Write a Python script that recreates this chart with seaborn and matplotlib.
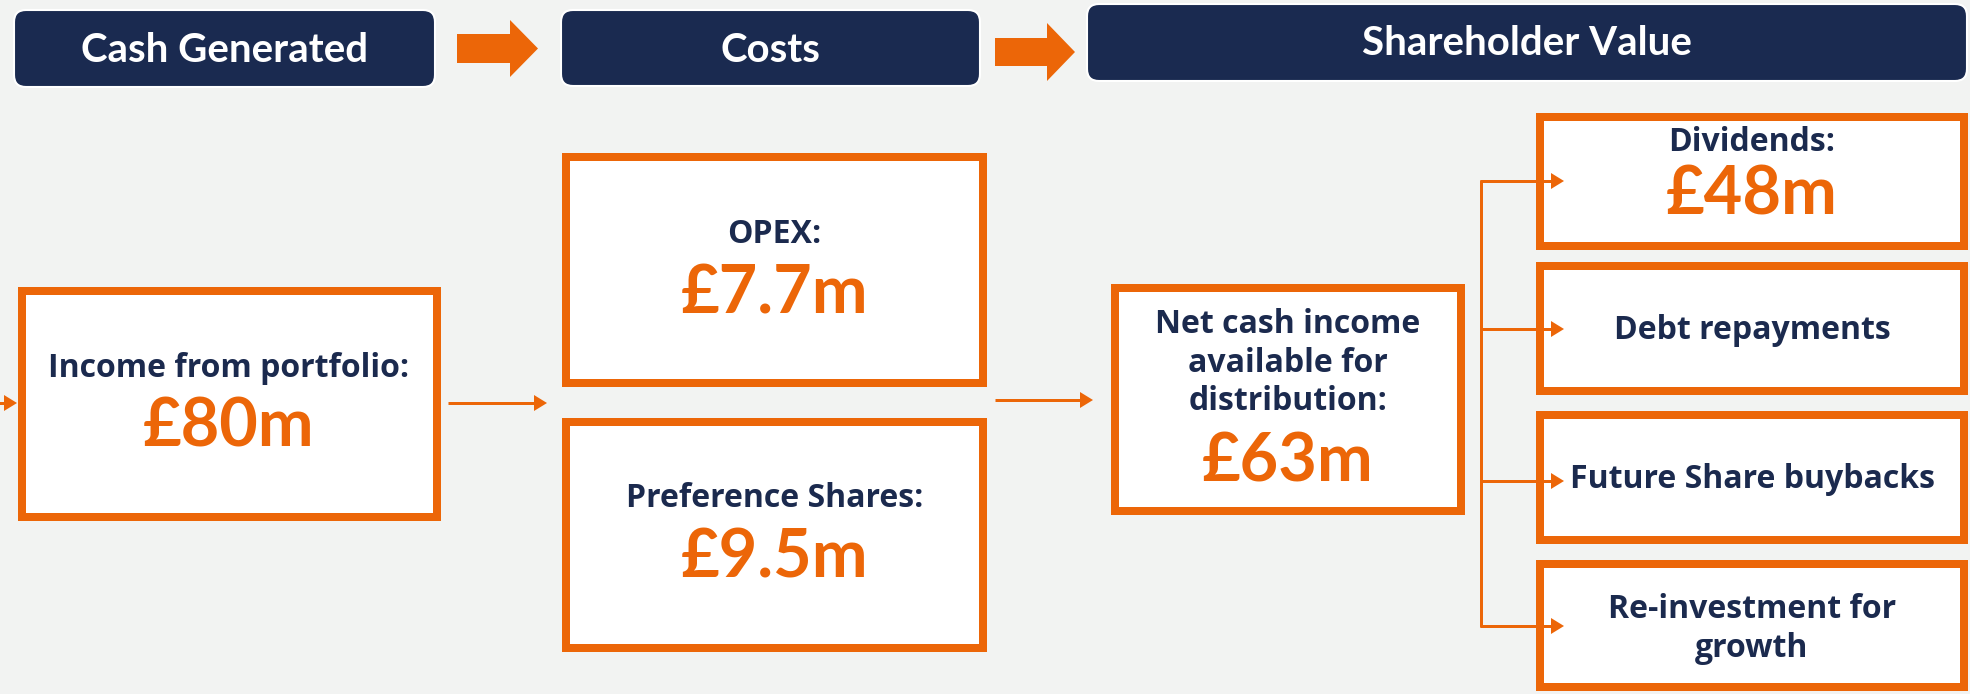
import matplotlib
matplotlib.use("Agg")
import matplotlib.pyplot as plt
from matplotlib.patches import Rectangle, FancyBboxPatch, Polygon
import seaborn as sns

# ---------------- data ----------------
header_labels = ["Cash Generated", "Costs", "Shareholder Value"]
income_label = "Income from portfolio:"
income_value = "£80m"
cost_labels = ["OPEX:", "Preference Shares:"]
cost_values = ["£7.7m", "£9.5m"]
net_label = ["Net cash income", "available for", "distribution:"]
net_value = "£63m"
use_labels = ["Dividends:", "Debt repayments", "Future Share buybacks", "Re-investment for\ngrowth"]
use_values = ["£48m", "", "", ""]

# ---------------- style ----------------
sns.set_theme(style="white")
BG = "#F2F3F2"
NAVY = "#1A2A50"
TXT = "#1B2A4E"
ORANGE = "#EC6608"
LBL_FONT = ["Open Sans", "DejaVu Sans"]
VAL_FONT = ["Lato", "DejaVu Sans"]

W, H = 1970, 694
fig = plt.figure(figsize=(W / 100, H / 100), dpi=100, facecolor=BG)
ax = fig.add_axes([0, 0, 1, 1])
ax.set_xlim(0, W)
ax.set_ylim(H, 0)
ax.set_facecolor(BG)
ax.axis("off")

PX = 72 / 100  # points per pixel


def box(x0, y0, x1, y1, lw_px=8):
    h = lw_px / 2
    ax.add_patch(Rectangle((x0 + h, y0 + h), x1 - x0 - lw_px, y1 - y0 - lw_px,
                           facecolor="white", edgecolor=ORANGE,
                           linewidth=lw_px * PX, joinstyle="miter", zorder=2))


def header(x0, y0, x1, y1, text, base):
    ax.add_patch(FancyBboxPatch((x0, y0), x1 - x0, y1 - y0,
                                boxstyle="round,pad=0,rounding_size=12",
                                facecolor=NAVY, edgecolor="white",
                                linewidth=1.5, zorder=2))
    ax.text((x0 + x1) / 2, base, text, color="white", ha="center",
            va="baseline", fontsize=29, fontweight="bold",
            family=VAL_FONT, zorder=3)


def block_arrow(x0, xs, x1, sy0, sy1, hy0, hy1):
    cy = (hy0 + hy1) / 2
    pts = [(x0, sy0), (xs, sy0), (xs, hy0), (x1, cy), (xs, hy1), (xs, sy1), (x0, sy1)]
    ax.add_patch(Polygon(pts, closed=True, facecolor=ORANGE, edgecolor="none", zorder=2))


def thin_arrow(x0, x1, y):
    ax.plot([x0, x1 - 10], [y, y], color=ORANGE, lw=3 * PX, zorder=4,
            solid_capstyle="butt")
    ax.add_patch(Polygon([(x1 - 13, y - 8), (x1, y), (x1 - 13, y + 8)],
                         closed=True, facecolor=ORANGE, edgecolor="none", zorder=4))


def label(x, y, s, size=23):
    ax.text(x, y, s, color=TXT, ha="center", va="baseline", fontsize=size,
            fontweight="bold", family=LBL_FONT, zorder=3)


def value(x, y, s, size=48):
    ax.text(x, y, s, color=ORANGE, ha="center", va="baseline", fontsize=size,
            fontweight="bold", family=VAL_FONT, zorder=3)


# headers
header(14, 10, 435, 87, header_labels[0], 62)
header(561, 10, 980, 86, header_labels[1], 62)
header(1087, 4, 1967, 81, header_labels[2], 55)
block_arrow(457, 510, 538, 34, 63, 20, 77)
block_arrow(995, 1047, 1075, 38, 66, 23, 81)

# income
box(18, 287, 441, 521)
label(229, 377, income_label)
value(229, 446, income_value)
thin_arrow(-5, 17, 403)
thin_arrow(448, 547, 403)

# costs
cost_boxes = [(562, 153, 987, 387), (562, 418, 987, 652)]
cost_label_base = [243, 507]
cost_value_base = [313, 577]
for (x0, y0, x1, y1), lb, vb, lt, vt in zip(cost_boxes, cost_label_base,
                                            cost_value_base, cost_labels, cost_values):
    box(x0, y0, x1, y1)
    label((x0 + x1) / 2, lb, lt)
    value((x0 + x1) / 2, vb, vt)

thin_arrow(995, 1093, 400)

# net cash
box(1111, 284, 1465, 515)
for t, b in zip(net_label, [333, 372, 410]):
    label(1288, b, t)
value(1288, 481, net_value)

# distribution lines
arrow_ys = [181, 329, 481, 626]
ax.plot([1481, 1481], [arrow_ys[0], arrow_ys[-1]], color=ORANGE, lw=3 * PX, zorder=4)
for y in arrow_ys:
    thin_arrow(1480, 1564, y)

use_boxes = [(1536, 113, 1968, 250), (1536, 262, 1968, 395),
             (1536, 411, 1968, 544), (1536, 560, 1968, 691)]
label_bases = [[151], [339], [488], [618, 657]]
value_bases = [214, None, None, None]
for (x0, y0, x1, y1), lbs, vb, lt, vt in zip(use_boxes, label_bases, value_bases,
                                             use_labels, use_values):
    box(x0, y0, x1, y1)
    cx = (x0 + x1) / 2
    for line, b in zip(lt.split("\n"), lbs):
        label(cx, b, line)
    if vt:
        value(cx, vb, vt)

fig.savefig("out.png", dpi=100, facecolor=BG)
